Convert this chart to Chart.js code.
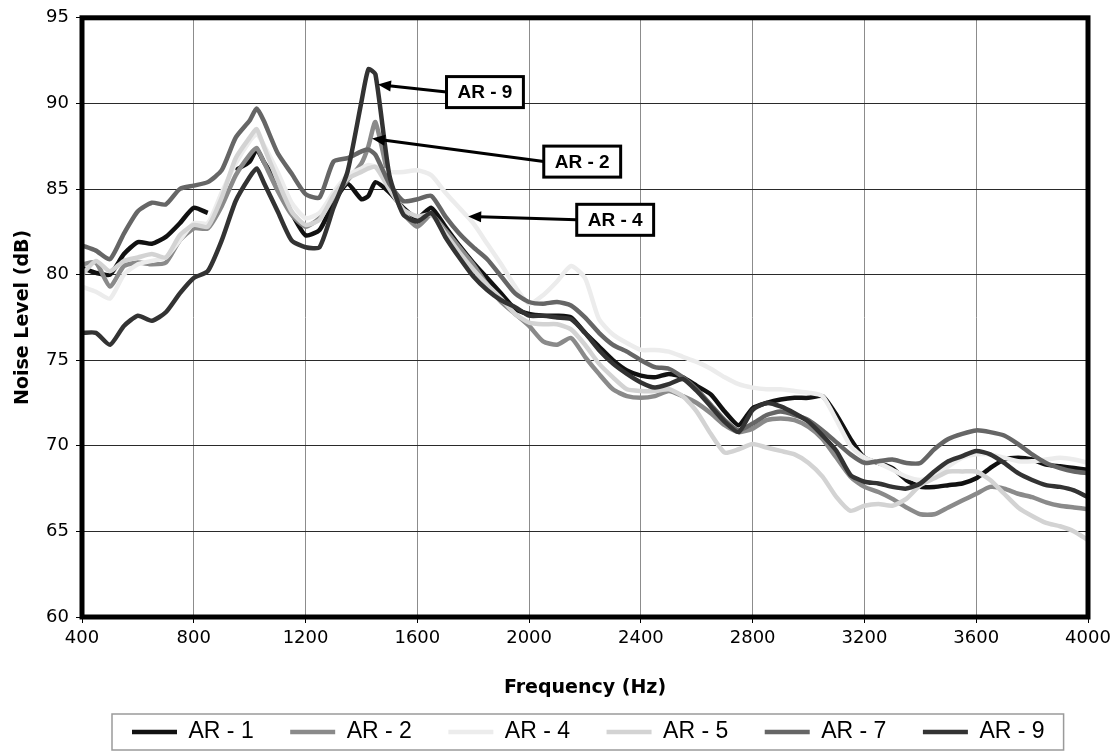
<!DOCTYPE html>
<html>
<head>
<meta charset="utf-8">
<title>Noise Level vs Frequency</title>
<script src="https://cdn.jsdelivr.net/npm/chart.js@4.4.1/dist/chart.umd.min.js"></script>
<style>
  body { margin: 0; background: #fff; }
  canvas { display: block; }
</style>
</head>
<body>
<canvas id="noiseChart" width="1119" height="756"></canvas>
<script>
// frequency points (Hz)
var freqHz = [400, 450, 500, 550, 600, 650, 700, 750, 800, 850, 900, 950, 1000, 1025, 1050, 1100, 1150, 1200, 1250, 1300,
  1350, 1400, 1425, 1450, 1500, 1550, 1600, 1650, 1700, 1750, 1800, 1850, 1900, 1950, 2000, 2050, 2100, 2150, 2200, 2250,
  2300, 2350, 2400, 2450, 2500, 2550, 2600, 2650, 2700, 2750, 2800, 2850, 2900, 2950, 3000, 3050, 3100, 3150, 3200, 3250,
  3300, 3350, 3400, 3450, 3500, 3550, 3600, 3650, 3700, 3750, 3800, 3850, 3900, 3950, 4000];

// noise level (dB) per sample
var ar1 = [80.4, 80.1, 80.0, 81.2, 81.9, 81.8, 82.2, 83.0, 83.9, 83.6, null, 86.1, 86.6, 87.3, 86.6, 85.3, 83.6, 82.3, 82.6, 84.2,
  85.3, 84.4, 84.6, 85.4, 84.8, 83.9, 83.3, 83.9, 82.8, 81.7, 80.7, 79.8, 78.9, 78.0, 77.7, 77.6, 77.6, 77.5, 76.6, 75.8,
  75.0, 74.4, 74.1, 74.0, 74.2, 74.0, 73.5, 73.0, 72.0, 71.2, 72.2, 72.5, 72.7, 72.8, 72.8, 72.9, 71.8, 70.4, 69.3, 69.0,
  68.7, 68.0, 67.6, 67.6, 67.7, 67.8, 68.1, 68.7, 69.2, 69.3, 69.2, 68.9, 68.8, 68.7, 68.6];
var ar2 = [80.6, 80.7, 79.3, 80.5, 80.7, 80.6, 80.7, 82.0, 82.7, 82.7, 84.0, 85.8, 87.0, 87.4, 86.6, 84.9, 83.5, 82.8, 83.3, 84.5,
  85.5, 86.5, 87.5, 88.9, 85.5, 83.6, 82.8, 83.5, 82.6, 81.6, 80.6, 79.4, 78.4, 77.7, 77.0, 76.1, 75.9, 76.3, 75.2, 74.2,
  73.3, 72.9, 72.8, 72.9, 73.2, 72.9, 72.5, 71.9, 71.2, 70.8, 71.0, 71.5, 71.6, 71.5, 71.1, 70.4, 69.3, 68.2, 67.6, 67.3,
  66.9, 66.4, 66.0, 66.0, 66.4, 66.8, 67.2, 67.6, 67.5, 67.2, 67.0, 66.7, 66.5, 66.4, 66.3];
var ar4 = [79.3, 79.0, 78.6, 80.0, 80.6, 80.8, 81.0, 82.0, 83.0, 83.0, 84.8, 86.5, 87.8, 88.2, 87.6, 86.0, 84.2, 83.3, 83.6, 84.8,
  85.8, 86.2, 86.4, 86.3, 86.0, 86.0, 86.1, 85.8, 84.8, 83.9, 83.0, 81.8, 80.6, 79.3, 78.3, 78.8, 79.6, 80.5, 79.8, 77.4,
  76.5, 76.0, 75.6, 75.6, 75.5, 75.2, 74.9, 74.5, 74.0, 73.6, 73.4, 73.3, 73.3, 73.2, 73.1, 72.9, 71.5, 70.0, 69.3, 69.0,
  68.6, 68.2, 68.0, 68.3, 68.8, 69.3, 69.5, 69.5, 69.3, 69.1, 69.1, 69.2, 69.3, 69.2, 69.0];
var ar5 = [80.0, 80.8, 80.2, 80.8, 81.0, 81.2, 81.0, 82.3, 82.9, 82.8, 84.5, 86.8, 88.0, 88.5, 87.5, 85.5, 83.7, 82.9, 83.2, 84.6,
  85.6, 86.0, 86.2, 86.3, 85.0, 83.8, 83.4, 83.5, 82.4, 81.3, 80.3, 79.4, 78.6, 77.7, 77.2, 77.1, 77.1, 76.8, 75.9, 74.8,
  74.0, 73.3, 73.2, 73.2, 73.3, 72.9, 72.0, 70.7, 69.6, 69.8, 70.1, 69.9, 69.7, 69.5, 69.0, 68.2, 67.0, 66.2, 66.5, 66.6,
  66.5, 66.9, 67.7, 68.1, 68.5, 68.5, 68.5, 68.0, 67.2, 66.4, 65.9, 65.5, 65.3, 65.0, 64.5];
var ar7 = [81.7, 81.4, 80.9, 82.4, 83.7, 84.2, 84.1, 85.0, 85.2, 85.4, 86.1, 88.0, 89.0, 89.7, 89.0, 87.1, 85.9, 84.7, 84.5, 86.6,
  86.8, 87.2, 87.3, 87.0, 85.3, 84.3, 84.4, 84.6, 83.4, 82.4, 81.6, 80.9, 79.9, 78.9, 78.4, 78.3, 78.4, 78.2, 77.5, 76.6,
  75.9, 75.5, 75.0, 74.6, 74.5, 74.0, 73.3, 72.4, 71.5, 70.9, 71.3, 71.8, 72.0, 71.8, 71.5, 70.9, 70.2, 69.5, 69.0, 69.1,
  69.2, 69.0, 69.0, 69.8, 70.4, 70.7, 70.9, 70.8, 70.6, 70.1, 69.5, 69.0, 68.7, 68.5, 68.4];
var ar9 = [76.6, 76.6, 75.9, 77.0, 77.6, 77.3, 77.8, 78.9, 79.8, 80.2, 82.0, 84.3, 85.7, 86.2, 85.4, 83.7, 82.0, 81.6, 81.6, 83.9,
  86.0, 90.1, 92.0, 91.7, 85.8, 83.5, 83.1, 83.6, 82.2, 81.0, 79.9, 79.1, 78.5, 78.1, 77.6, 77.6, 77.5, 77.4, 76.6, 75.6,
  74.8, 74.2, 73.7, 73.4, 73.6, 73.9, 73.2, 72.3, 71.4, 70.8, 72.1, 72.5, 72.3, 71.9, 71.4, 70.6, 69.7, 68.3, 67.9, 67.8,
  67.6, 67.5, 67.8, 68.5, 69.1, 69.4, 69.7, 69.5, 69.0, 68.4, 68.0, 67.7, 67.6, 67.4, 67.0];

var seriesNames = ["AR - 1", "AR - 2", "AR - 4", "AR - 5", "AR - 7", "AR - 9"];
var seriesValues = [ar1, ar2, ar4, ar5, ar7, ar9];
var seriesColors = ["#111111", "#8a8a8a", "#ececec", "#d3d3d3", "#666666", "#333333"];

var xTickValues = [400, 800, 1200, 1600, 2000, 2400, 2800, 3200, 3600, 4000];
var yTickValues = [60, 65, 70, 75, 80, 85, 90, 95];

// callouts: label, arrow tip and box centre in data units (Hz, dB)
var calloutLabels = ["AR - 9", "AR - 2", "AR - 4"];
var calloutTips = [[1459, 91.1], [1438, 87.95], [1782, 83.4]];
var calloutBoxes = [[1842, 90.66], [2190, 86.6], [2308, 83.2]];

var LEGEND_PAD = 36.5;

var plotFrame = {
  id: "plotFrame",
  afterLayout: function(chart) {
    // first legend item starts under the plot's left part, like the original
    chart.legend.left = 132 - LEGEND_PAD;
  },
  afterDraw: function(chart) {
    var ctx = chart.ctx;
    var a = chart.chartArea;
    var xs = chart.scales.x, ys = chart.scales.y;
    ctx.save();

    // thick plot border
    ctx.strokeStyle = "#000";
    ctx.lineWidth = 5;
    ctx.strokeRect(a.left, a.top, a.right - a.left, a.bottom - a.top);

    // callouts
    ctx.font = "bold 19px 'Liberation Sans', Arial, sans-serif";
    ctx.textAlign = "center";
    ctx.textBaseline = "middle";
    for (var i = 0; i < calloutLabels.length; i++) {
      var bx = xs.getPixelForValue(calloutBoxes[i][0]);
      var by = ys.getPixelForValue(calloutBoxes[i][1]);
      var tx = xs.getPixelForValue(calloutTips[i][0]);
      var ty = ys.getPixelForValue(calloutTips[i][1]);
      var w = ctx.measureText(calloutLabels[i]).width + 22;
      var h = 31;
      var sx = bx - w / 2;

      var ang = Math.atan2(ty - by, tx - sx);
      var hl = 13, hw = 5.5;
      ctx.strokeStyle = "#000";
      ctx.lineWidth = 3;
      ctx.beginPath();
      ctx.moveTo(sx, by);
      ctx.lineTo(tx - Math.cos(ang) * (hl - 2), ty - Math.sin(ang) * (hl - 2));
      ctx.stroke();
      ctx.fillStyle = "#000";
      ctx.beginPath();
      ctx.moveTo(tx, ty);
      ctx.lineTo(tx - Math.cos(ang) * hl - Math.sin(ang) * hw, ty - Math.sin(ang) * hl + Math.cos(ang) * hw);
      ctx.lineTo(tx - Math.cos(ang) * hl + Math.sin(ang) * hw, ty - Math.sin(ang) * hl - Math.cos(ang) * hw);
      ctx.closePath();
      ctx.fill();

      ctx.fillStyle = "#fff";
      ctx.fillRect(sx, by - h / 2, w, h);
      ctx.lineWidth = 3;
      ctx.strokeRect(sx, by - h / 2, w, h);
      ctx.fillStyle = "#000";
      ctx.fillText(calloutLabels[i], bx, by + 1);
    }

    // legend frame
    var hb = chart.legend.legendHitBoxes;
    if (hb && hb.length) {
      var first = hb[0], last = hb[hb.length - 1];
      ctx.strokeStyle = "#9a9a9a";
      ctx.lineWidth = 1.5;
      ctx.strokeRect(first.left - 20, first.top - 6.5,
        last.left + last.width + 19 - (first.left - 20), first.height + 13);
    }
    ctx.restore();
  }
};

new Chart("noiseChart", {
  type: "line",
  data: {
    datasets: seriesNames.map(function(name, i) {
      return {
        label: name,
        data: freqHz.map(function(f, k) { return { x: f, y: seriesValues[i][k] }; }),
        borderColor: seriesColors[i],
        backgroundColor: seriesColors[i],
        borderWidth: 4.5,
        pointRadius: 0,
        tension: 0.2,
        fill: false,
        spanGaps: false,
        order: seriesNames.length - i
      };
    })
  },
  options: {
    responsive: false,
    animation: false,
    layout: { padding: { left: 0, right: 31, top: 12, bottom: 2.5 } },
    plugins: {
      tooltip: { enabled: false },
      legend: {
        position: "bottom",
        align: "start",
        labels: {
          usePointStyle: true,
          pointStyle: "line",
          pointStyleWidth: 45,
          padding: LEGEND_PAD,
          color: "#000",
          font: { family: "'Liberation Sans', Arial, sans-serif", size: 23 },
          sort: function(a, b) { return a.datasetIndex - b.datasetIndex; }
        }
      }
    },
    scales: {
      x: {
        type: "linear",
        min: 400,
        max: 4000,
        afterBuildTicks: function(s) { s.ticks = xTickValues.map(function(v) { return { value: v }; }); },
        afterFit: function(s) { s.height = 67; },
        grid: { color: "#8c8c8c", lineWidth: 1, tickLength: 6, tickColor: "#000" },
        border: { display: false },
        ticks: {
          color: "#000",
          padding: 5,
          maxRotation: 0,
          autoSkip: false,
          font: { family: "'DejaVu Sans', sans-serif", size: 18 },
          callback: function(v) { return String(v); }
        },
        title: {
          display: true,
          text: "Frequency (Hz)",
          color: "#000",
          font: { family: "'DejaVu Sans', sans-serif", size: 19, weight: "bold" },
          padding: { top: 0, bottom: -15.4 }
        }
      },
      y: {
        min: 60,
        max: 95,
        afterBuildTicks: function(s) { s.ticks = yTickValues.map(function(v) { return { value: v }; }); },
        afterFit: function(s) { s.width = 82; },
        grid: { color: "#2a2a2a", lineWidth: 1, tickLength: 6, tickColor: "#000" },
        border: { display: false },
        ticks: {
          color: "#000",
          padding: 7,
          font: { family: "'DejaVu Sans', sans-serif", size: 18 },
          callback: function(v) { return String(v); }
        },
        title: {
          display: true,
          text: "Noise Level (dB)",
          color: "#000",
          font: { family: "'DejaVu Sans', sans-serif", size: 19, weight: "bold" },
          padding: { top: 12, bottom: 0 }
        }
      }
    }
  },
  plugins: [plotFrame]
});
</script>
</body>
</html>
